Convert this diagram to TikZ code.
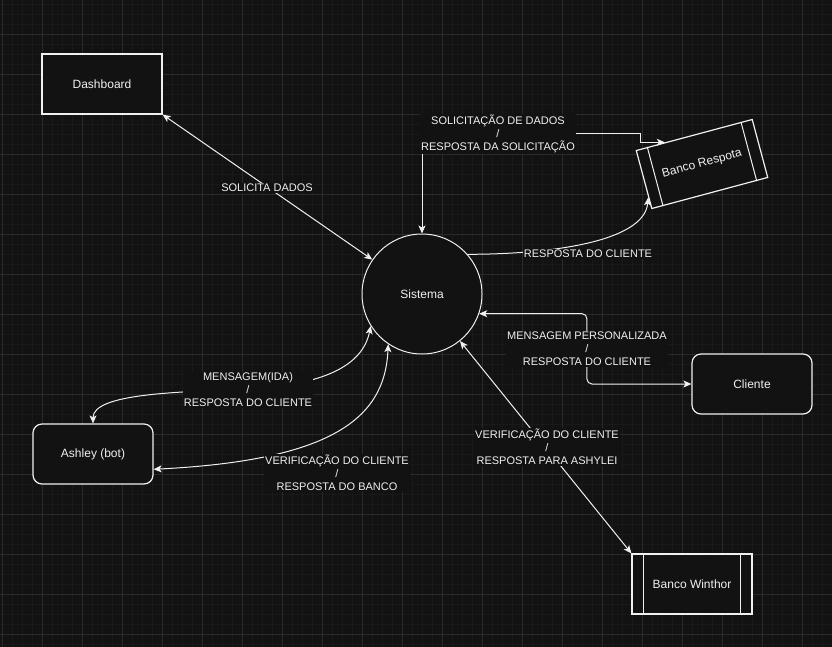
\documentclass[tikz,border=0pt]{standalone}
\usepackage{fontspec}
\setmainfont{Liberation Sans}
\usepackage{tikz}
\usetikzlibrary{arrows.meta, calc}
\definecolor{bgdark}{HTML}{121212}
\definecolor{gridminor}{HTML}{191919}
\definecolor{gridmajor}{HTML}{2A2A2A}
\definecolor{fgline}{HTML}{F0F0F0}

\tikzset{
  blk/.style={draw=fgline, line width=1.2pt, fill=bgdark, text=fgline, minimum width=120pt, minimum height=60pt, inner sep=0pt, font=\fontsize{12}{14}\selectfont},
  rblk/.style={blk, rounded corners=9pt},
  lbl/.style={fill=bgdark, text=fgline, font=\fontsize{11}{13}\selectfont, align=center, inner sep=1pt},
  flow/.style={draw=fgline, line width=1pt},
}

\begin{document}
\begin{tikzpicture}[x=1pt, y=-1pt, >={Stealth[length=8pt, width=7pt, inset=2pt]}]
    \fill[bgdark] (0,0) rectangle (832,647);
    \useasboundingbox (0,0) rectangle (832,647);
    \foreach \gx in {2,12,...,832} \draw[gridminor, line width=0.75pt] (\gx,0) -- (\gx,647);
    \foreach \gy in {4,14,...,644} \draw[gridminor, line width=0.75pt] (0,\gy) -- (832,\gy);
    \foreach \gx in {2,42,...,802} \draw[gridmajor, line width=0.75pt] (\gx,0) -- (\gx,647);
    \foreach \gy in {34,74,...,634} \draw[gridmajor, line width=0.75pt] (0,\gy) -- (832,\gy);

    \node[blk] (dash) at (102,84) {Dashboard};
    \node[blk, circle, line width=1pt, minimum size=120pt] (sis) at (422,294) {Sistema};
    \node[blk, rotate=15] (rsp) at (702,164) {Banco Respota};
    \node[rblk] (cli) at (752,384) {Cliente};
    \node[rblk] (ash) at (93,454) {Ashley (bot)};
    \node[blk] (win) at (692,584) {Banco Winthor};
    \foreach \n in {rsp,win} {
      \draw[fgline, line width=1pt] ($(\n.north west)!0.1!(\n.north east)$) -- ($(\n.south west)!0.1!(\n.south east)$);
      \draw[fgline, line width=1pt] ($(\n.north west)!0.9!(\n.north east)$) -- ($(\n.south west)!0.9!(\n.south east)$);
    }
    \coordinate (rtop) at ($(rsp.north west)!0.25!(rsp.north east)$);
    \coordinate (rleft) at ($(rsp.north west)!0.8!(rsp.south west)$);
    \coordinate (cmid) at ($(sis.east)!0.5!(cli.west)$);
    \coordinate (aright) at ($(ash.north east)!0.75!(ash.south east)$);

    \draw[flow, <->] (dash.south east) -- (sis);
    \draw[flow, <->] (sis.north) |- (640,134) |- (rtop);
    \draw[flow, ->] (sis.41) .. controls +(80,0) and +(-4,45) .. (rleft);
    \draw[flow, <->, rounded corners=5pt] (sis.-19.5) -| (cmid |- cli.west) -- (cli.west);
    \draw[flow, <->] (sis) -- (win.north west);
    \draw[flow, <->] (sis.212) .. controls +(-8,40) and +(75,-4) .. (248,389) .. controls +(-70,3) and +(0,-30) .. (ash.north);
    \draw[flow, <->] (sis.236) .. controls +(-3,75) and +(177,-9) .. (aright);

    \node[lbl] (l1) at (267,188) {SOLICITA DADOS};
    \node[lbl] (l2) at (498,134) {SOLICITAÇÃO DE DADOS\\/\\RESPOSTA DA SOLICITAÇÃO};
    \node[lbl] (l3) at (588,254) {RESPOSTA DO CLIENTE};
    \node[lbl] (l4) at (587,349) {MENSAGEM PERSONALIZADA\\/\\RESPOSTA DO CLIENTE};
    \node[lbl] (l5) at (547,447) {VERIFICAÇÃO DO CLIENTE\\/\\RESPOSTA PARA ASHYLEI};
    \node[lbl] (l6) at (248,390) {MENSAGEM(IDA)\\/\\RESPOSTA DO CLIENTE};
    \node[lbl] (l7) at (337,473) {VERIFICAÇÃO DO CLIENTE\\/\\RESPOSTA DO BANCO};
\end{tikzpicture}
\end{document}
